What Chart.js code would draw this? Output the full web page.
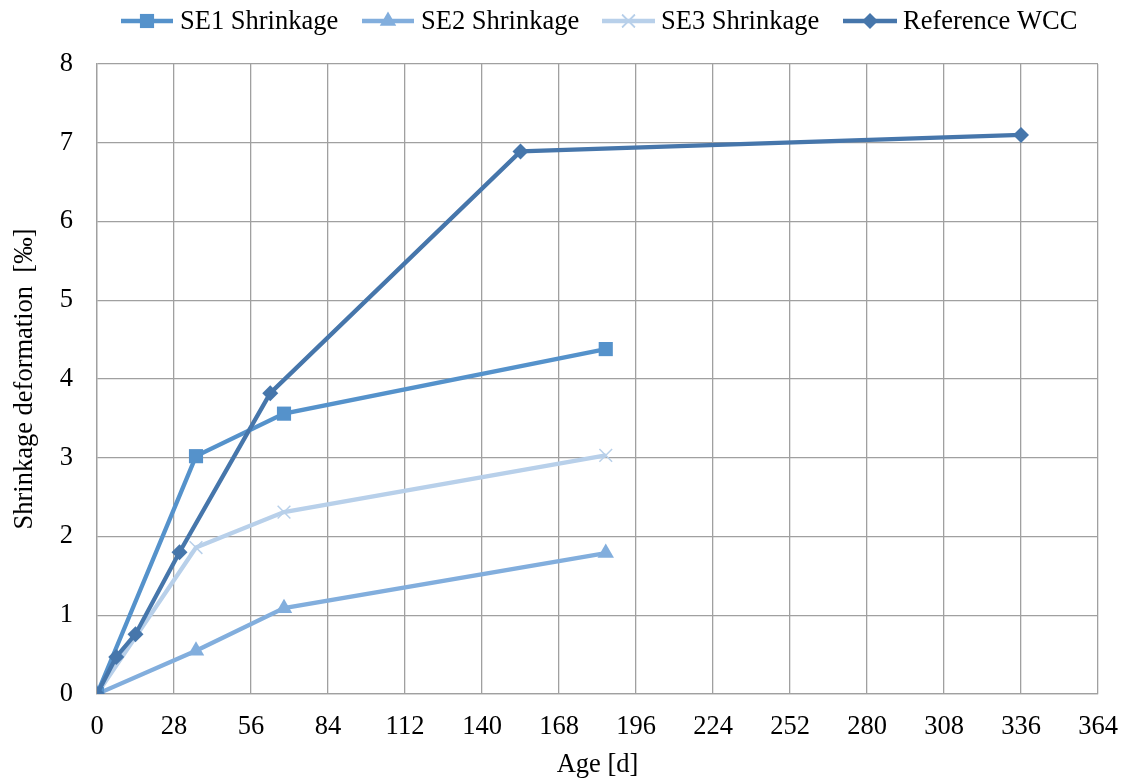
<!DOCTYPE html>
<html>
<head>
<meta charset="utf-8">
<title>Shrinkage deformation</title>
<script src="https://cdn.jsdelivr.net/npm/chart.js@4/dist/chart.umd.min.js"></script>
<style>
  html, body { margin: 0; padding: 0; background: #ffffff; }
  #wrap { width: 1123px; height: 778px; position: relative; }
</style>
</head>
<body>
<div id="wrap"><canvas id="c" width="1123" height="778"></canvas></div>
<script>
// Age in days and shrinkage in per mille
const seAges = [0, 36, 68, 185];
const se1Shrinkage = [0, 3.02, 3.56, 4.38];
const se2Shrinkage = [0, 0.55, 1.09, 1.79];
const se3Shrinkage = [0, 1.86, 2.31, 3.03];
const refAges = [0, 7, 14, 30, 63, 154, 336];
const refShrinkage = [0, 0.47, 0.76, 1.80, 3.82, 6.89, 7.10];

const xTicks = [0, 28, 56, 84, 112, 140, 168, 196, 224, 252, 280, 308, 336, 364];
const yTicks = [0, 1, 2, 3, 4, 5, 6, 7, 8];

const seriesNames = ['SE1 Shrinkage', 'SE2 Shrinkage', 'SE3 Shrinkage', 'Reference WCC'];

const FONT = '"Liberation Serif", "Times New Roman", serif';
const FONT_SIZE = 26.5;

function pairs(xs, ys) {
  return xs.map((x, i) => ({ x: x, y: ys[i] }));
}

const datasets = [
  {
    label: seriesNames[0], data: pairs(seAges, se1Shrinkage),
    borderColor: '#5592CB', backgroundColor: '#5592CB',
    pointStyle: 'rect', pointRadius: 10, pointBorderWidth: 0, order: 2
  },
  {
    label: seriesNames[1], data: pairs(seAges, se2Shrinkage),
    borderColor: '#82AEDD', backgroundColor: '#82AEDD',
    pointStyle: 'triangle', pointRadius: 9.5, pointBorderWidth: 0, order: 3
  },
  {
    label: seriesNames[2], data: pairs(seAges, se3Shrinkage),
    borderColor: '#B8D0EA', backgroundColor: '#B8D0EA',
    pointStyle: 'crossRot', pointRadius: 9, pointBorderWidth: 1.5, order: 4
  },
  {
    label: seriesNames[3], data: pairs(refAges, refShrinkage),
    borderColor: '#4676AB', backgroundColor: '#4676AB',
    pointStyle: 'rectRot', pointRadius: 8, pointBorderWidth: 0, order: 1
  }
];
datasets.forEach(d => {
  d.borderWidth = 4.3;
  d.tension = 0;
  d.fill = false;
  d.pointHoverRadius = d.pointRadius;
});

// Legend with a line segment and its marker for each series
const lineLegend = {
  id: 'lineLegend',
  afterDraw(chart) {
    const ctx = chart.ctx;
    const items = [
      { x1: 121, x2: 173, tx: 180 },
      { x1: 362, x2: 414, tx: 421 },
      { x1: 602, x2: 655, tx: 661 },
      { x1: 843, x2: 897, tx: 903 }
    ];
    const y = 21;
    ctx.save();
    chart.data.datasets.forEach((ds, i) => {
      const it = items[i];
      ctx.strokeStyle = ds.borderColor;
      ctx.lineWidth = 4.3;
      ctx.beginPath();
      ctx.moveTo(it.x1, y);
      ctx.lineTo(it.x2, y);
      ctx.stroke();
      ctx.fillStyle = ds.backgroundColor;
      ctx.strokeStyle = ds.borderColor;
      ctx.lineWidth = ds.pointBorderWidth || 0;
      Chart.helpers.drawPoint(ctx, {
        pointStyle: ds.pointStyle, radius: ds.pointRadius,
        borderWidth: ds.pointBorderWidth, rotation: 0
      }, (it.x1 + it.x2) / 2, y);
      if (ds.pointBorderWidth) ctx.stroke();
      ctx.fillStyle = '#000000';
      ctx.font = FONT_SIZE + 'px ' + FONT;
      ctx.textAlign = 'left';
      ctx.textBaseline = 'middle';
      ctx.fillText(ds.label, it.tx, y + 1);
    });
    ctx.restore();
  }
};

new Chart(document.getElementById('c'), {
  type: 'line',
  data: { datasets: datasets },
  plugins: [lineLegend],
  options: {
    responsive: false,
    animation: false,
    devicePixelRatio: 1,
    layout: { padding: { top: 64, right: 25, bottom: 0, left: 0 } },
    plugins: {
      legend: { display: false },
      tooltip: { enabled: false }
    },
    scales: {
      x: {
        type: 'linear',
        min: 0, max: 364,
        afterBuildTicks: s => { s.ticks = xTicks.map(v => ({ value: v })); },
        afterFit: s => { s.height = 84; s.paddingRight = 0; s.paddingLeft = 0; },
        grid: { color: '#A0A0A0', lineWidth: 1.3, drawTicks: false },
        border: { color: '#A0A0A0', width: 1.3 },
        ticks: { color: '#000000', font: { family: FONT, size: FONT_SIZE }, padding: 17, maxRotation: 0 },
        title: { display: true, text: 'Age [d]', color: '#000000', font: { family: FONT, size: FONT_SIZE }, padding: { top: 0, bottom: -3 } }
      },
      y: {
        type: 'linear',
        min: 0, max: 8,
        afterBuildTicks: s => { s.ticks = yTicks.map(v => ({ value: v })); },
        afterFit: s => { s.width = 97; s.paddingTop = 0; s.paddingBottom = 0; },
        grid: { color: '#A0A0A0', lineWidth: 1.3, drawTicks: false },
        border: { color: '#A0A0A0', width: 1.3 },
        ticks: { color: '#000000', font: { family: FONT, size: FONT_SIZE }, padding: 24 },
        title: { display: true, text: 'Shrinkage deformation  [‰]', color: '#000000', font: { family: FONT, size: FONT_SIZE }, padding: { top: 9, bottom: 0 } }
      }
    }
  }
});
</script>
</body>
</html>
